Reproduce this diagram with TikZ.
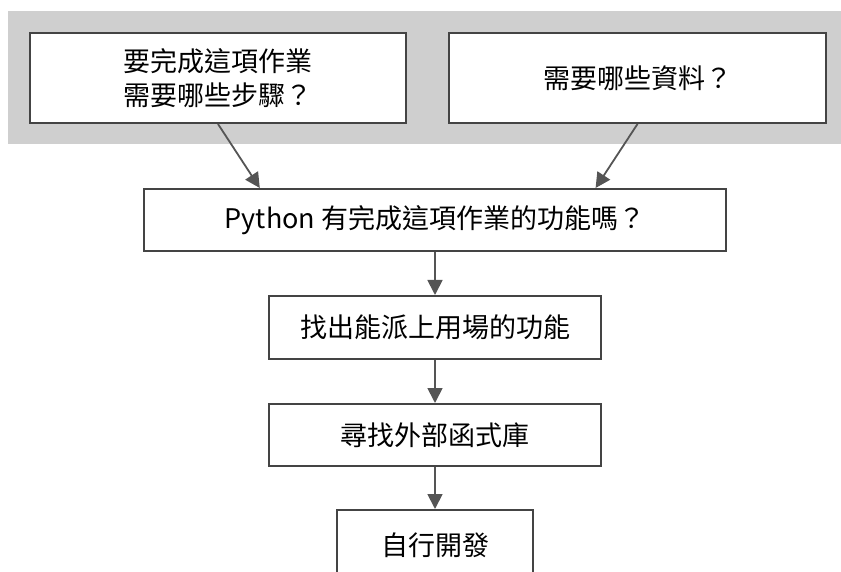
\documentclass[tikz,border=0pt]{standalone}
\usepackage{fontspec}
\setmainfont{Noto Sans CJK TC}
\usetikzlibrary{arrows.meta,calc}
\definecolor{bandgray}{HTML}{CFCFCF}
\definecolor{boxline}{HTML}{444444}
\definecolor{arrowline}{HTML}{555555}

\begin{document}
\begin{tikzpicture}[x=1pt,y=-1pt,
    box/.style={draw=boxline,line width=2pt,fill=white,inner sep=0pt,
      align=center,font=\fontsize{27}{34}\selectfont},
    flow/.style={draw=arrowline,line width=1.8pt,
      -{Triangle[length=15pt,width=15pt]}}]
  \useasboundingbox (0,0) rectangle (841,572);
  \clip (0,0) rectangle (841,572);
  % gray band behind the two questions
  \fill[bandgray] (8,11) rectangle (841,144);
  \foreach \pos/\w/\h/\name/\txt in
{{(218,78)/376pt/90pt/steps/{要完成這項作業\\需要哪些步驟？}},
 {(637.5,78)/377pt/90pt/data/{需要哪些資料？}},
 {(435,220)/582pt/62pt/ask/{Python 有完成這項作業的功能嗎？}},
 {(435,327.5)/332pt/63pt/find/{找出能派上用場的功能}},
 {(435,435)/332pt/62pt/lib/{尋找外部函式庫}},
 {(435,545)/196pt/70pt/dev/{自行開發}}}
    \node[box,minimum width=\w,minimum height=\h] (\name) at \pos {\txt};
  \draw[flow] (steps.south) -- ($(ask.north west)!.2!(ask.north east)$);
  \draw[flow] (data.south) -- ($(ask.north west)!.775!(ask.north east)$);
  \foreach \src/\tgt in {ask/find,find/lib,lib/dev}
    \draw[flow] (\src) -- (\tgt);
\end{tikzpicture}
\end{document}
